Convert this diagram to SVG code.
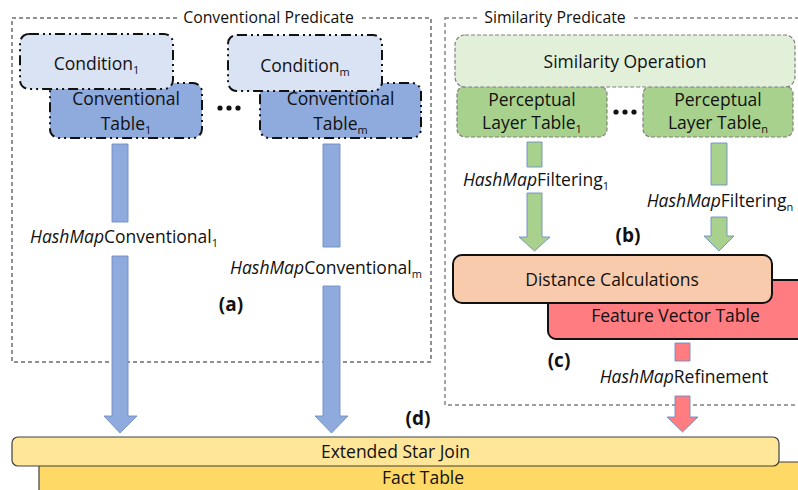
<svg xmlns="http://www.w3.org/2000/svg" width="798" height="490" viewBox="0 0 798 490">
  <style>
    text { font-family: "Open Sans", "Noto Sans", "Liberation Sans", sans-serif; fill: #111; }
    .t { font-size: 17.5px; text-anchor: middle; }
    .title { font-size: 15.8px; text-anchor: middle; }
    .lbl { font-size: 19px; font-weight: bold; text-anchor: middle; }
    .sub { font-size: 11px; }
    .it { font-style: italic; }
    .conv-frame { fill: none; stroke: #222; stroke-width: 1; stroke-dasharray: 4 3; }
    .sim-frame { fill: none; stroke: #7f7f7f; stroke-width: 1.4; stroke-dasharray: 4 3; }
    .cond { fill: #dae3f3; stroke: #111; stroke-width: 2; stroke-dasharray: 10 4 2 4 2 4; }
    .ctab { fill: #8faadc; stroke: #111; stroke-width: 2; stroke-dasharray: 10 4 2 4 2 4; }
    .simop { fill: #e2f0d9; stroke: #7f7f7f; stroke-width: 1.2; stroke-dasharray: 4 2; }
    .ptab { fill: #a9d18e; stroke: #7f7f7f; stroke-width: 1.2; stroke-dasharray: 4 2; }
    .dist { fill: #f8cbad; stroke: #111; stroke-width: 2; }
    .fvec { fill: #ff7c80; stroke: #111; stroke-width: 2; }
    .esj { fill: #ffe699; stroke: #404040; stroke-width: 1.2; }
    .fact { fill: #ffd966; stroke: #404040; stroke-width: 1.2; }
    .arr { stroke: #6d8fc4; stroke-width: 0.9; }
    .blue { fill: #8faadc; }
    .green { fill: #a9d18e; }
    .red { fill: #ff7c80; }
    .dot { fill: #111; }
  </style>

  <!-- predicate frames -->
  <g id="conventional-predicate">
    <rect class="conv-frame" x="12" y="18" width="419" height="344"/>
    <rect x="178" y="8" width="182" height="20" fill="#fff"/>
    <text class="title" x="268.5" y="23">Conventional Predicate</text>
  </g>
  <g id="similarity-predicate">
    <rect class="sim-frame" x="445" y="18" width="370" height="387"/>
    <rect x="479" y="8" width="152" height="20" fill="#fff"/>
    <text class="title" x="555" y="23">Similarity Predicate</text>
  </g>

  <!-- connectors -->
  <g id="connectors">
    <path class="arr blue" d="M112,144 H128 V222 H112 Z M112,256 H128 V416 H137 L120,433 L104,416 H112 Z"/>
    <path class="arr blue" d="M323,144 H340 V247 H323 Z M323,286 H340 V416 H348 L331.5,433 L315,416 H323 Z"/>
    <path class="arr green" d="M527,142 H542 V167 H527 Z M527,193 H542 V237 H550 L534.5,251 L519,237 H527 Z"/>
    <path class="arr green" d="M711,143 H727 V185 H711 Z M711,217 H727 V236 H734 L719,251 L704,236 H711 Z"/>
    <path class="arr red" d="M675,343 H690 V361 H675 Z M675,396 H690 V417 H698 L682.5,432 L667,417 H675 Z"/>
  </g>

  <!-- conventional side -->
  <g id="conventional-table-1">
    <rect class="ctab" x="50" y="83" width="152" height="55" rx="9"/>
    <text class="t" x="126" y="105">Conventional</text>
    <text class="t" x="126" y="130">Table<tspan class="sub" dy="4">1</tspan></text>
  </g>
  <g id="condition-1">
    <rect class="cond" x="20" y="34" width="153" height="55" rx="9"/>
    <text class="t" x="96.5" y="70">Condition<tspan class="sub" dy="4">1</tspan></text>
  </g>
  <g id="conventional-table-m">
    <rect class="ctab" x="260" y="83" width="161" height="55" rx="9"/>
    <text class="t" x="340.5" y="105">Conventional</text>
    <text class="t" x="340.5" y="130">Table<tspan class="sub" dy="4">m</tspan></text>
  </g>
  <g id="condition-m">
    <rect class="cond" x="228" y="35" width="154" height="56" rx="9"/>
    <text class="t" x="305" y="72">Condition<tspan class="sub" dy="4">m</tspan></text>
  </g>
  <g id="conventional-ellipsis">
    <circle class="dot" cx="220" cy="108" r="2.6"/>
    <circle class="dot" cx="229" cy="108" r="2.6"/>
    <circle class="dot" cx="238" cy="108" r="2.6"/>
  </g>

  <!-- similarity side -->
  <g id="perceptual-layer-table-1">
    <rect class="ptab" x="457" y="86" width="150" height="51" rx="8"/>
    <text class="t" x="532" y="106">Perceptual</text>
    <text class="t" x="532" y="129">Layer Table<tspan class="sub" dy="4">1</tspan></text>
  </g>
  <g id="perceptual-layer-table-n">
    <rect class="ptab" x="643" y="86" width="150" height="51" rx="8"/>
    <text class="t" x="718" y="106">Perceptual</text>
    <text class="t" x="718" y="129">Layer Table<tspan class="sub" dy="4">n</tspan></text>
  </g>
  <g id="similarity-operation">
    <rect class="simop" x="455" y="35" width="340" height="52" rx="10"/>
    <text class="t" x="625" y="68">Similarity Operation</text>
  </g>
  <g id="perceptual-ellipsis">
    <circle class="dot" cx="616" cy="112" r="2.6"/>
    <circle class="dot" cx="625" cy="112" r="2.6"/>
    <circle class="dot" cx="634" cy="112" r="2.6"/>
  </g>
  <g id="feature-vector-table">
    <rect class="fvec" x="548" y="280" width="270" height="59" rx="8"/>
    <text class="t" x="675.5" y="322">Feature Vector Table</text>
  </g>
  <g id="distance-calculations">
    <rect class="dist" x="453" y="255" width="319" height="48" rx="9"/>
    <text class="t" x="612" y="286">Distance Calculations</text>
  </g>

  <!-- star join -->
  <g id="fact-table">
    <rect class="fact" x="39" y="462" width="780" height="40" rx="5"/>
    <text class="t" x="423" y="484">Fact Table</text>
  </g>
  <g id="extended-star-join">
    <rect class="esj" x="12" y="437" width="767" height="29" rx="6"/>
    <text class="t" x="395.5" y="458">Extended Star Join</text>
  </g>

  <!-- connector labels -->
  <g id="connector-labels">
    <text class="t" x="124" y="243"><tspan class="it">HashMap</tspan>Conventional<tspan class="sub" dy="4">1</tspan></text>
    <text class="t" x="326" y="274"><tspan class="it">HashMap</tspan>Conventional<tspan class="sub" dy="4">m</tspan></text>
    <text class="t" x="536" y="186"><tspan class="it">HashMap</tspan>Filtering<tspan class="sub" dy="4">1</tspan></text>
    <text class="t" x="720" y="207"><tspan class="it">HashMap</tspan>Filtering<tspan class="sub" dy="4">n</tspan></text>
    <text class="t" x="684" y="383"><tspan class="it">HashMap</tspan>Refinement</text>
  </g>

  <!-- section markers -->
  <g id="section-labels">
    <text class="lbl" x="231" y="311">(a)</text>
    <text class="lbl" x="628" y="242">(b)</text>
    <text class="lbl" x="559" y="367">(c)</text>
    <text class="lbl" x="418" y="425">(d)</text>
  </g>
</svg>
